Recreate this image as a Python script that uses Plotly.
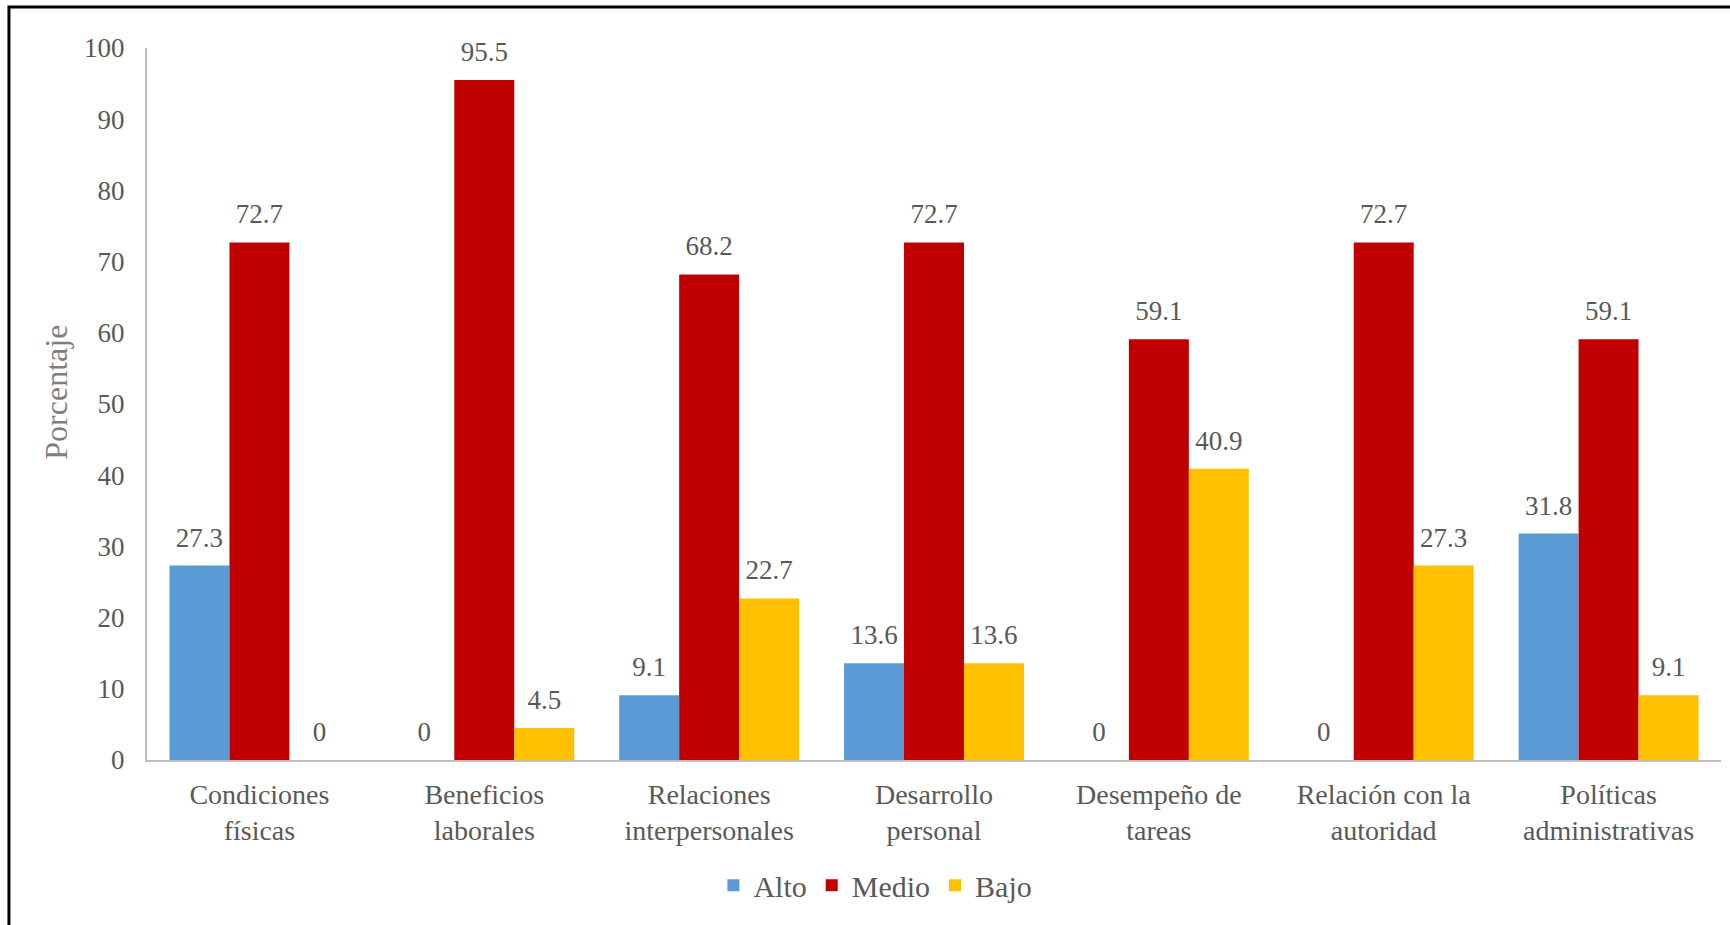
import plotly.graph_objects as go

# Dimensiones evaluadas
categorias = [
    "Condiciones<br>físicas",
    "Beneficios<br>laborales",
    "Relaciones<br>interpersonales",
    "Desarrollo<br>personal",
    "Desempeño de<br>tareas",
    "Relación con la<br>autoridad",
    "Políticas<br>administrativas",
]

# Porcentajes por nivel
alto = [27.3, 0, 9.1, 13.6, 0, 0, 31.8]
medio = [72.7, 95.5, 68.2, 72.7, 59.1, 72.7, 59.1]
bajo = [0, 4.5, 22.7, 13.6, 40.9, 27.3, 9.1]

series = [("Alto", alto, "#5B9BD5"), ("Medio", medio, "#C00000"), ("Bajo", bajo, "#FFC000")]

FONT = "Liberation Serif"
GRIS = "#595959"

fig = go.Figure()
for nombre, valores, color in series:
    fig.add_trace(go.Bar(
        name=nombre,
        x=categorias,
        y=valores,
        offsetgroup=nombre,
        marker=dict(color=color, line=dict(width=0)),
        hoverinfo="x+y+name",
    ))

# Etiquetas de valor: texto agrupado igual que las barras, con un marcador
# transparente que separa la etiqueta del borde superior de la barra
for nombre, valores, color in series:
    fig.add_trace(go.Scatter(
        x=categorias,
        y=valores,
        offsetgroup=nombre,
        mode="markers+text",
        marker=dict(size=18, opacity=0),
        text=[f"{v:g}" for v in valores],
        textposition="top center",
        textfont=dict(family=FONT, size=27, color=GRIS),
        cliponaxis=False,
        showlegend=False,
        hoverinfo="skip",
    ))

fig.update_layout(
    width=1730,
    height=925,
    margin=dict(l=147, r=9, t=48, b=165, autoexpand=False),
    paper_bgcolor="white",
    plot_bgcolor="white",
    barmode="group",
    bargap=0.2,
    bargroupgap=0,
    scattermode="group",
    scattergap=0.2,
    font=dict(family=FONT, color=GRIS),
    showlegend=True,
    legend=dict(
        orientation="h",
        x=0.506, xanchor="center", xref="container",
        y=0.043, yanchor="middle", yref="container",
        font=dict(family=FONT, size=30, color=GRIS),
        itemwidth=30,
        traceorder="normal",
    ),
    xaxis=dict(
        showline=True, linecolor="#BFBFBF", linewidth=2,
        ticks="", tickfont=dict(family=FONT, size=28, color=GRIS),
        ticklabelstandoff=8,
        showgrid=False,
    ),
    yaxis=dict(
        range=[0, 100], dtick=10,
        showline=True, linecolor="#BFBFBF", linewidth=2,
        showgrid=False, zeroline=False,
        ticks="", tickfont=dict(family=FONT, size=27, color=GRIS),
        ticklabelstandoff=15,
    ),
    annotations=[dict(
        text="Porcentaje", textangle=-90,
        xref="paper", yref="paper", x=-0.058, y=0.5,
        xanchor="center", yanchor="middle", yshift=12,
        showarrow=False,
        font=dict(family=FONT, size=32, color="#7F7F7F"),
    )],
    shapes=[dict(
        type="rect", xref="paper", yref="paper",
        x0=-0.0877, x1=1.05, y0=-0.5, y1=1.0576,
        line=dict(color="black", width=3), fillcolor="rgba(0,0,0,0)",
        layer="below",
    )],
)

fig.write_html("out.html")
